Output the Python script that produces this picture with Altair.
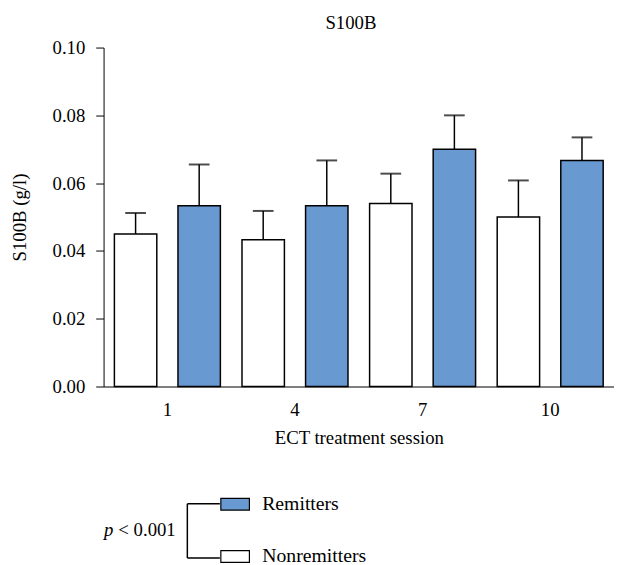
import altair as alt
import pandas as pd

sessions = ["1", "4", "7", "10"]
groups = ["Nonremitters", "Remitters"]
nonrem_mean = [0.0450, 0.0433, 0.0540, 0.0500]
nonrem_upper = [0.0512, 0.0518, 0.0628, 0.0608]
rem_mean = [0.0533, 0.0533, 0.0700, 0.0667]
rem_upper = [0.0655, 0.0667, 0.0800, 0.0735]

rows = []
for i, s in enumerate(sessions):
    rows.append({"session": s, "group": "Nonremitters", "mean": nonrem_mean[i], "upper": nonrem_upper[i]})
    rows.append({"session": s, "group": "Remitters", "mean": rem_mean[i], "upper": rem_upper[i]})
df = pd.DataFrame(rows)

FONT = "Liberation Serif"

x_enc = alt.X("session:N", sort=sessions, scale=alt.Scale(paddingInner=0, paddingOuter=0),
              axis=alt.Axis(title="ECT treatment session", labelAngle=0, ticks=False,
                            domainColor="#555555", domainWidth=1.5, labelPadding=14,
                            titlePadding=10))
xo_enc = alt.XOffset("group:N", sort=groups, scale=alt.Scale(paddingInner=0.333, paddingOuter=0.17))
y_scale = alt.Scale(domain=[0, 0.1], nice=False)

base = alt.Chart(df)

bars = base.mark_bar(stroke="black", strokeWidth=1.5).encode(
    x=x_enc,
    xOffset=xo_enc,
    y=alt.Y("mean:Q", scale=y_scale,
            axis=alt.Axis(title="S100B (g/l)", values=[0, 0.02, 0.04, 0.06, 0.08, 0.1],
                          format=".2f", grid=False, tickSize=8, labelPadding=11,
                          domainColor="black", tickColor="black", titlePadding=23)),
    color=alt.Color("group:N",
                    scale=alt.Scale(domain=["Remitters", "Nonremitters"], range=["#6899d0", "#ffffff"]),
                    legend=alt.Legend(orient="none", legendX=118, legendY=448, title=None,
                                      symbolType="M-1,-0.41H1V0.41H-1Z", symbolSize=841,
                                      symbolStrokeColor="black", symbolStrokeWidth=1.2,
                                      labelFont=FONT, labelFontSize=20, labelColor="black",
                                      labelOffset=12, rowPadding=27, padding=0)),
)

err = base.mark_rule(color="black", strokeWidth=1.5).encode(
    x=alt.X("session:N", sort=sessions),
    xOffset=alt.XOffset("group:N", sort=groups),
    y=alt.Y("mean:Q", scale=y_scale),
    y2="upper:Q",
)

caps = base.mark_tick(color="black", thickness=2, size=21).encode(
    x=alt.X("session:N", sort=sessions),
    xOffset=alt.XOffset("group:N", sort=groups),
    y=alt.Y("upper:Q", scale=y_scale),
)

ann = pd.DataFrame({"a": [0]})
vline = alt.Chart(ann).mark_rule(color="black", strokeWidth=1.5).encode(
    x=alt.value(85), y=alt.value(463), y2=alt.value(518))
h1 = alt.Chart(ann).mark_rule(color="black", strokeWidth=1.5).encode(
    x=alt.value(85), x2=alt.value(118), y=alt.value(463))
h2 = alt.Chart(ann).mark_rule(color="black", strokeWidth=1.5).encode(
    x=alt.value(85), x2=alt.value(118), y=alt.value(518))
ptxt = alt.Chart(ann).mark_text(text="p", font=FONT, fontSize=19, fontStyle="italic",
                                align="right", baseline="middle", color="black").encode(
    x=alt.value(10), y=alt.value(490))
ltxt = alt.Chart(ann).mark_text(text="< 0.001", font=FONT, fontSize=19,
                                align="left", baseline="middle", color="black").encode(
    x=alt.value(15), y=alt.value(490))

chart = alt.layer(bars, err, caps, vline, h1, h2, ptxt, ltxt).properties(
    width=518, height=344,
    title=alt.TitleParams("S100B", font=FONT, fontSize=19, fontWeight="normal", color="black",
                          offset=6, dx=-8),
    padding={"left": 97, "top": 36, "right": 0, "bottom": 178},
    autosize=alt.AutoSizeParams(type="none"),
).configure_view(stroke=None).configure_axis(
    labelFont=FONT, titleFont=FONT, labelFontSize=19, titleFontSize=19,
    titleFontWeight="normal", labelColor="black", titleColor="black",
)

chart.save("out.html", embed_options={"renderer": "svg", "actions": False})
